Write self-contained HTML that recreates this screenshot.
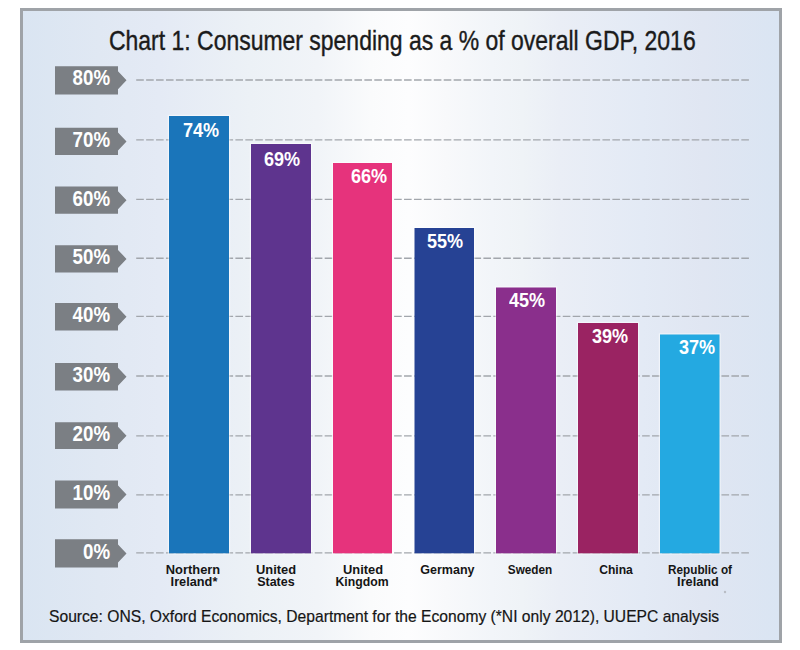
<!DOCTYPE html>
<html><head><meta charset="utf-8">
<style>
html,body{margin:0;padding:0;background:#fff;}
body{width:800px;height:650px;position:relative;overflow:hidden;font-family:"Liberation Sans",sans-serif;}
#frame{position:absolute;left:20px;top:8px;width:756px;height:629px;border:3px solid #9fa3a8;background:linear-gradient(to right,#dae5f2 0%,#e0e8f3 10%,#e4eaf5 18%,#ecf1f6 30%,#f1f4f8 39%,#fafbfc 46%,#fdfdfe 51%,#f8f9fb 56%,#f2f5f9 62%,#eff3f7 66%,#eaeef6 71%,#e3eaf5 82%,#e0e6f2 90%,#dae5f3 100%);}
.title{position:absolute;white-space:nowrap;font-size:28px;line-height:32px;color:#1b1b1b;transform-origin:0 0;transform:scaleX(0.82);-webkit-text-stroke:0.4px #1b1b1b;}
.tag{position:absolute;color:#fff;font-weight:bold;font-size:21.5px;line-height:22px;white-space:nowrap;text-align:right;transform-origin:100% 0;transform:scaleX(0.87);}
.val{position:absolute;color:#fff;font-weight:bold;font-size:21px;line-height:22px;white-space:nowrap;transform-origin:0 0;transform:scaleX(0.86);}
.lab{position:absolute;width:100px;color:#151515;font-weight:bold;font-size:12.5px;line-height:12px;white-space:nowrap;text-align:center;transform-origin:50% 0;}
.src{position:absolute;color:#151515;font-size:17px;line-height:20px;white-space:nowrap;transform-origin:0 0;transform:scaleX(0.92);-webkit-text-stroke:0.2px #151515;}
svg{position:absolute;left:0;top:0;}
</style></head>
<body>
<div id="frame"></div>
<svg width="800" height="650" viewBox="0 0 800 650">
 <g stroke="#a2a6ac" stroke-width="1.3" stroke-dasharray="7.6 2.32">
  <line x1="136.2" y1="80" x2="749.5" y2="80"/>
  <line x1="136.2" y1="139.9" x2="749.5" y2="139.9"/>
  <line x1="136.2" y1="199.3" x2="749.5" y2="199.3"/>
  <line x1="136.2" y1="258.25" x2="749.5" y2="258.25"/>
  <line x1="136.2" y1="316.3" x2="749.5" y2="316.3"/>
  <line x1="136.2" y1="376" x2="749.5" y2="376"/>
  <line x1="136.2" y1="435.9" x2="749.5" y2="435.9"/>
  <line x1="136.2" y1="494.8" x2="749.5" y2="494.8"/>
  <line x1="136.2" y1="552.8" x2="749.5" y2="552.8"/>
 </g>
 <g fill="#7b7f84">
  <path d="M55 66.20H118V71.35L126.5 80.35L118 89.35V94.50H55z"/>
  <path d="M55 127.70H118V132.40L126.5 141.40L118 150.40V155.10H55z"/>
  <path d="M55 186.50H118V191.15L126.5 200.15L118 209.15V213.80H55z"/>
  <path d="M55 245.20H118V249.90L126.5 258.90L118 267.90V272.60H55z"/>
  <path d="M55 303.10H118V307.80L126.5 316.80L118 325.80V330.50H55z"/>
  <path d="M55 363.10H118V367.80L126.5 376.80L118 385.80V390.50H55z"/>
  <path d="M55 422.20H118V426.65L126.5 435.65L118 444.65V449.10H55z"/>
  <path d="M55 480.60H118V485.60L126.5 494.60L118 503.60V508.60H55z"/>
  <path d="M55 539.30H118V544.45L126.5 553.45L118 562.45V567.60H55z"/>
 </g>
 <rect x="168.4" y="115.4" width="61.2" height="438.50" fill="none" stroke="#ffffff" stroke-opacity="0.5" stroke-width="1.2"/>
 <rect x="169" y="116" width="60" height="437.30" fill="#1a75ba"/>
 <rect x="250.4" y="143.4" width="61.2" height="410.50" fill="none" stroke="#ffffff" stroke-opacity="0.5" stroke-width="1.2"/>
 <rect x="251" y="144" width="60" height="409.30" fill="#5e348e"/>
 <rect x="332.4" y="162.4" width="60.2" height="391.50" fill="none" stroke="#ffffff" stroke-opacity="0.5" stroke-width="1.2"/>
 <rect x="333" y="163" width="59" height="390.30" fill="#e6337c"/>
 <rect x="413.9" y="227.4" width="60.7" height="326.50" fill="none" stroke="#ffffff" stroke-opacity="0.5" stroke-width="1.2"/>
 <rect x="414.5" y="228" width="59.5" height="325.30" fill="#264294"/>
 <rect x="495.4" y="286.9" width="61.2" height="267.00" fill="none" stroke="#ffffff" stroke-opacity="0.5" stroke-width="1.2"/>
 <rect x="496" y="287.5" width="60" height="265.80" fill="#8a2f8c"/>
 <rect x="577.4" y="322.4" width="61.2" height="231.50" fill="none" stroke="#ffffff" stroke-opacity="0.5" stroke-width="1.2"/>
 <rect x="578" y="323" width="60" height="230.30" fill="#9a2362"/>
 <rect x="659.4" y="333.9" width="60.7" height="220.00" fill="none" stroke="#ffffff" stroke-opacity="0.5" stroke-width="1.2"/>
 <rect x="660" y="334.5" width="59.5" height="218.80" fill="#24a9e1"/>
 <circle cx="725" cy="592" r="1.2" fill="#b8bcc4"/>
</svg>
<div class="title" style="left:108.5px;top:25px;">Chart 1: Consumer spending as a % of overall GDP, 2016</div>
<div class="tag" style="right:690px;top:67.4px;">80%</div>
<div class="tag" style="right:690px;top:128.9px;">70%</div>
<div class="tag" style="right:690px;top:187.7px;">60%</div>
<div class="tag" style="right:690px;top:246.4px;">50%</div>
<div class="tag" style="right:690px;top:304.3px;">40%</div>
<div class="tag" style="right:690px;top:364.3px;">30%</div>
<div class="tag" style="right:690px;top:423.4px;">20%</div>
<div class="tag" style="right:690px;top:481.8px;">10%</div>
<div class="tag" style="right:690px;top:540.5px;">0%</div>
<div class="val" style="left:182.5px;top:119px;">74%</div>
<div class="val" style="left:263.5px;top:148px;">69%</div>
<div class="val" style="left:350.5px;top:165px;">66%</div>
<div class="val" style="left:426.5px;top:229.5px;">55%</div>
<div class="val" style="left:508.5px;top:289px;">45%</div>
<div class="val" style="left:591.5px;top:324.5px;">39%</div>
<div class="val" style="left:678.5px;top:336px;">37%</div>
<div class="lab" style="left:143.4px;top:564px;transform:scaleX(1.03);">Northern</div>
<div class="lab" style="left:143.6px;top:576px;transform:scaleX(1.02);">Ireland*</div>
<div class="lab" style="left:226.2px;top:564px;transform:scaleX(1.03);">United</div>
<div class="lab" style="left:225.89999999999998px;top:576px;transform:scaleX(1.0);">States</div>
<div class="lab" style="left:313.1px;top:564px;transform:scaleX(1.03);">United</div>
<div class="lab" style="left:312.4px;top:576px;transform:scaleX(0.98);">Kingdom</div>
<div class="lab" style="left:397.4px;top:564px;transform:scaleX(1.0);">Germany</div>
<div class="lab" style="left:479.6px;top:564px;transform:scaleX(0.94);">Sweden</div>
<div class="lab" style="left:566px;top:564px;transform:scaleX(0.97);">China</div>
<div class="lab" style="left:650.4px;top:564px;transform:scaleX(0.94);">Republic of</div>
<div class="lab" style="left:648.4px;top:576px;transform:scaleX(1.02);">Ireland</div>
<div class="src" style="left:49px;top:607px;">Source: ONS, Oxford Economics, Department for the Economy (*NI only 2012), UUEPC analysis</div>
</body></html>
